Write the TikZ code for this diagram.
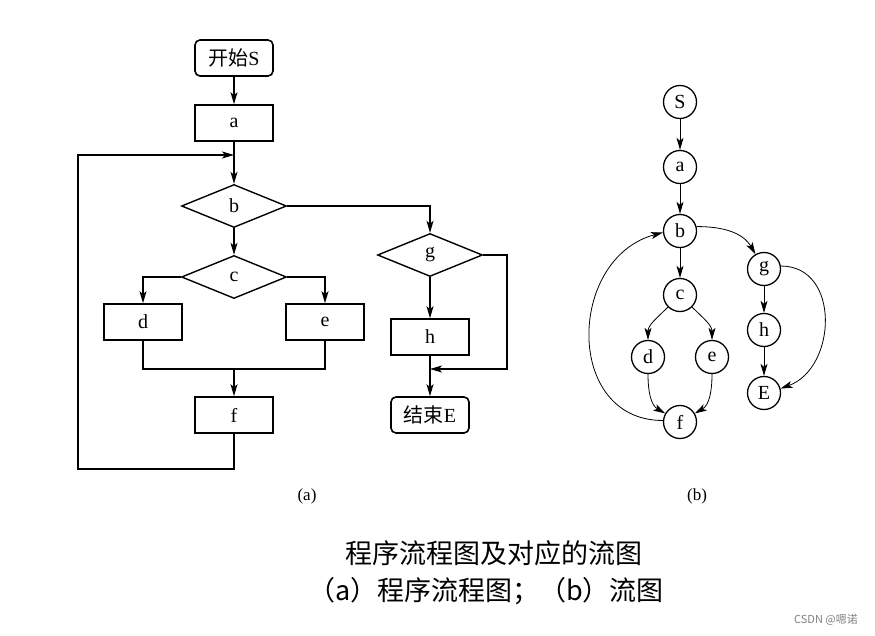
\documentclass[tikz,border=0pt]{standalone}
\usepackage{fontspec}
\setmainfont{Liberation Serif}
\newfontfamily\cjk{Noto Sans CJK SC}
\usetikzlibrary{shapes.geometric, arrows.meta}

\begin{document}
\begin{tikzpicture}[x=1pt, y=-1pt,
    box/.style={rectangle, draw, line width=1.6pt, minimum width=78pt, minimum height=36pt,
        inner sep=0pt, font=\fontsize{20}{20}\selectfont},
    term/.style={box, rounded corners=5pt},
    decide/.style={diamond, draw, line width=1.4pt, minimum width=105pt, minimum height=43pt,
        aspect=2.4, inner sep=0pt, font=\fontsize{20}{20}\selectfont},
    vert/.style={circle, draw, line width=1.3pt, minimum size=33pt, inner sep=0pt,
        font=\fontsize{20}{20}\selectfont},
    flow/.style={-{Stealth[length=12pt,width=7pt,inset=3pt]}, line width=1.1pt},
    wire/.style={line width=1.1pt},
    link/.style={-{Stealth[length=12pt,width=7pt,inset=3pt]}, line width=0.8pt}
]
    \useasboundingbox (0,0) rectangle (875,636);

    % (a) program flowchart
    \node[term]   (start) at (234,58)  {{\cjk 开始}S};
    \node[box]    (a)     at (234,123) {a};
    \node[decide] (b)     at (234,206) {b};
    \node[decide] (c)     at (234,277) {c};
    \node[box]    (d)     at (143,322) {d};
    \node[box]    (e)     at (325,322) {e};
    \node[box]    (f)     at (234,415) {f};
    \node[decide] (g)     at (430,255) {g};
    \node[box]    (h)     at (430,337) {h};
    \node[term]   (end)   at (430,415) {{\cjk 结束}E};

    \coordinate (loop)  at (234,155);
    \coordinate (back)  at (78,469);
    \coordinate (join)  at (234,369);
    \coordinate (gside) at (507,369);
    \coordinate (gjoin) at (430,369);

    \draw[flow] (start) -- (a);
    \draw[flow] (a) -- (b);
    \draw[flow] (b) -- (c);
    \draw[flow] (b.east) -| (g.north);
    \draw[flow] (c.west) -| (d.north);
    \draw[flow] (c.east) -| (e.north);
    \draw[wire] (d.south) |- (join) -| (e.south);
    \draw[flow] (join) -- (f);
    \draw[flow] (f.south) |- (back) |- (loop);
    \draw[flow] (g) -- (h);
    \draw[flow] (h) -- (end);
    \draw[flow] (g.east) -| (gside) -- (gjoin);

    % (b) flow graph
    \node[vert] (vS) at (680,102) {S};
    \node[vert] (va) at (680,167) {a};
    \node[vert] (vb) at (680,231) {b};
    \node[vert] (vc) at (680,295) {c};
    \node[vert] (vd) at (648,357) {d};
    \node[vert] (ve) at (712,357) {e};
    \node[vert] (vf) at (680,422) {f};
    \node[vert] (vg) at (764,269) {g};
    \node[vert] (vh) at (764,330) {h};
    \node[vert] (vE) at (764,393) {E};

    \draw[link] (vS) -- (va);
    \draw[link] (va) -- (vb);
    \draw[link] (vb) -- (vc);
    \draw[link] (vg) -- (vh);
    \draw[link] (vh) -- (vE);
    \draw[link] (vc) to[out=225,in=90] (vd);
    \draw[link] (vc) to[out=-45,in=90] (ve);
    \draw[link] (vd) to[out=-90,in=150] (vf);
    \draw[link] (ve) to[out=-90,in=30] (vf);
    \draw[link] (vb.15) to[out=0,in=120] (vg);
    \draw[link] (vg.10) to[out=0,in=20,looseness=1.25] (vE.15);
    \draw[link] (vf.175) to[out=180,in=195,looseness=1.35] (vb.185);

    % captions
    \node[font=\fontsize{17}{17}\selectfont] (capa) at (307,496) {(a)};
    \node[font=\fontsize{17}{17}\selectfont] (capb) at (697,496) {(b)};
    \node[font=\cjk\fontsize{27}{27}\selectfont] (title) at (494,553) {程序流程图及对应的流图};
    \node[font=\cjk\fontsize{27}{27}\selectfont] (sub)   at (486,591) {（a）程序流程图；（b）流图};
    \node[font=\cjk\fontsize{11}{11}\selectfont, text=gray] (mark) at (826,620) {CSDN @嗯诺};
\end{tikzpicture}
\end{document}
